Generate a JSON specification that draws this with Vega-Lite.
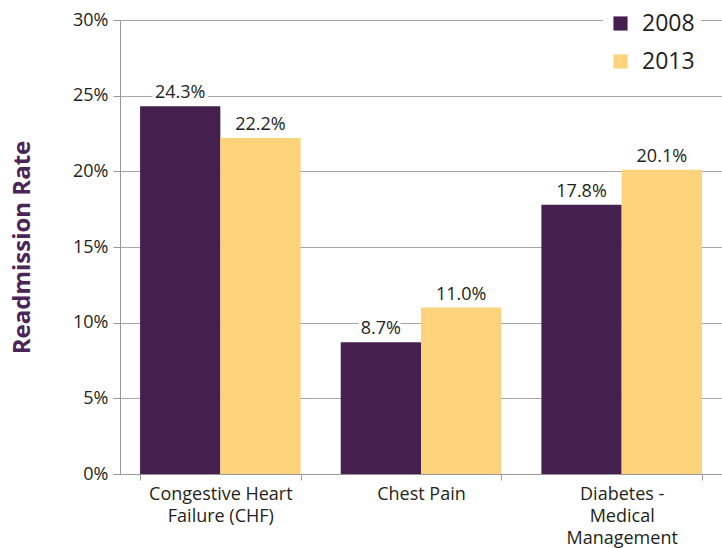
{
  "$schema": "https://vega.github.io/schema/vega-lite/v6.json",
  "width": 602,
  "height": 454,
  "autosize": {"type": "none"},
  "padding": {"left": 120, "top": 20, "right": 0, "bottom": 74},
  "background": "white",
  "config": {
    "view": {"stroke": null},
    "font": "Open Sans",
    "axis": {"labelFont": "Open Sans", "titleFont": "Open Sans"},
    "legend": {"labelFont": "Open Sans"}
  },
  "data": {
    "values": [
      {"condition": "Congestive Heart|Failure (CHF)", "year": "2008", "rate": 0.243},
      {"condition": "Congestive Heart|Failure (CHF)", "year": "2013", "rate": 0.222},
      {"condition": "Chest Pain", "year": "2008", "rate": 0.087},
      {"condition": "Chest Pain", "year": "2013", "rate": 0.110},
      {"condition": "Diabetes -|Medical|Management", "year": "2008", "rate": 0.178},
      {"condition": "Diabetes -|Medical|Management", "year": "2013", "rate": 0.201}
    ]
  },
  "encoding": {
    "x": {
      "field": "condition",
      "type": "nominal",
      "sort": null,
      "scale": {"paddingInner": 0.2, "paddingOuter": 0.1},
      "axis": {
        "title": null,
        "labelAngle": 0,
        "labelExpr": "split(datum.label, '|')",
        "labelFontSize": 18,
        "labelColor": "#231f20",
        "labelLineHeight": 22,
        "labelPadding": 5,
        "labelLimit": 300,
        "tickBand": "extent",
        "tickSize": 6,
        "tickColor": "#999999",
        "domainColor": "#999999",
        "grid": false
      }
    },
    "xOffset": {"field": "year", "type": "nominal"},
    "y": {
      "field": "rate",
      "type": "quantitative",
      "scale": {"domain": [0, 0.3]},
      "axis": {
        "title": "Readmission Rate",
        "titleFontSize": 24,
        "titleFontWeight": "bold",
        "titleColor": "#4b2458",
        "titlePadding": 38,
        "values": [0, 0.05, 0.1, 0.15, 0.2, 0.25, 0.3],
        "format": ".0%",
        "labelFontSize": 18,
        "labelColor": "#231f20",
        "labelPadding": 5,
        "tickSize": 7,
        "tickColor": "#999999",
        "domainColor": "#999999",
        "grid": true,
        "gridColor": "#a6a6a6"
      }
    }
  },
  "layer": [
    {
      "mark": {"type": "bar"},
      "encoding": {
        "color": {
          "field": "year",
          "type": "nominal",
          "scale": {"domain": ["2008", "2013"], "range": ["#45204f", "#fcd27b"]},
          "legend": {
            "title": null,
            "orient": "none",
            "legendX": 483,
            "legendY": -14,
            "symbolType": "square",
            "symbolSize": 200,
            "symbolStrokeWidth": 0,
            "labelFontSize": 23,
            "labelColor": "#231f20",
            "rowPadding": 14,
            "labelOffset": 10,
            "fillColor": "white",
            "padding": 6
          }
        }
      }
    },
    {
      "mark": {"type": "text", "baseline": "bottom", "dy": -4, "fontSize": 18, "stroke": "white", "strokeWidth": 7, "fill": "white"},
      "encoding": {"text": {"field": "rate", "type": "quantitative", "format": ".1%"}}
    },
    {
      "mark": {"type": "text", "baseline": "bottom", "dy": -4, "fontSize": 18, "fill": "#231f20"},
      "encoding": {"text": {"field": "rate", "type": "quantitative", "format": ".1%"}}
    }
  ]
}
